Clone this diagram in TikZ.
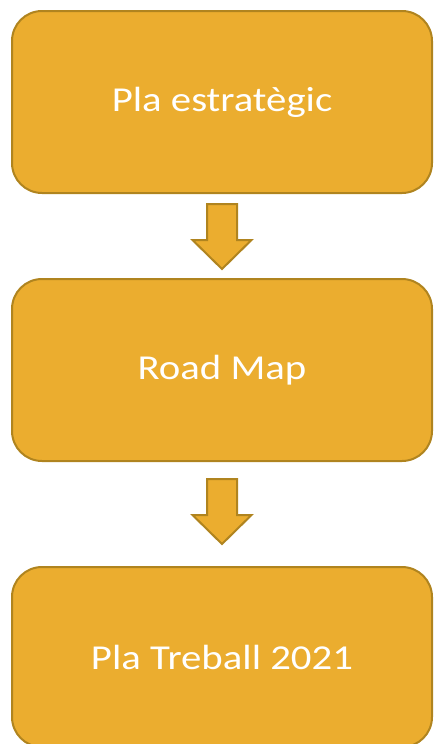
\documentclass[tikz,border=0pt]{standalone}
\usepackage{fontspec}
\setmainfont{Carlito}
\usetikzlibrary{positioning}
\definecolor{boxfill}{HTML}{EBAD2F}
\definecolor{boxline}{HTML}{B0841F}
\newcommand{\widetext}[1]{\scalebox{1.165}[1]{#1}}
\newcommand{\stepdown}[1]{\draw[arrowbody] (#1) ++(-15,0) -- ++(30,0) -- ++(0,36) -- ++(14.5,0) -- ++(-29.5,29) -- ++(-29.5,-29) -- ++(14.5,0) -- cycle;}

\begin{document}
\begin{tikzpicture}[x=1pt,y=-1pt,
  planbox/.style={rounded corners=30pt, draw=boxline, line width=2pt, fill=boxfill,
    minimum width=420pt, minimum height=182pt, text=white,
    font=\fontsize{35}{40}\selectfont},
  arrowbody/.style={draw=boxline, line width=2pt, fill=boxfill, line join=miter}]
  \useasboundingbox (0,0) rectangle (434,744);

  \node[planbox] (estrategic) at (222,102) {\widetext{Pla estratègic}};
  \node[planbox] (roadmap) [below=84pt of estrategic] {\widetext{Road Map}};
  \node[planbox, minimum height=180pt] (treball) [below=104pt of roadmap] {\widetext{Pla Treball 2021}};

  \coordinate[below=10pt of estrategic.south] (arr1);
  \coordinate[below=17pt of roadmap.south] (arr2);
  \stepdown{arr1}
  \stepdown{arr2}

\end{tikzpicture}
\end{document}
